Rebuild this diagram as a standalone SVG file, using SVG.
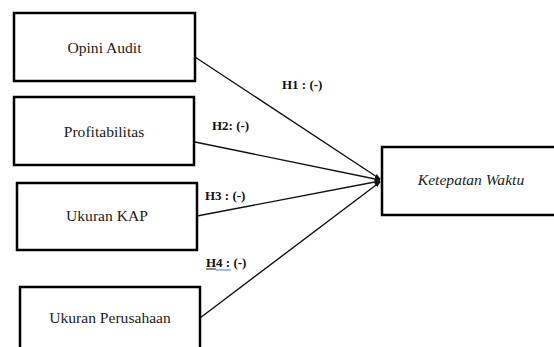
<svg xmlns="http://www.w3.org/2000/svg" width="554" height="347" viewBox="0 0 554 347">
<style>
.box{fill:#fff;stroke:#000;stroke-width:2.5}
.lbl{font-family:"Liberation Serif",serif;font-size:15.6px;fill:#222;text-anchor:middle}
.h{font-family:"Liberation Serif",serif;font-size:13px;font-weight:bold;fill:#111}
.con{stroke:#111;stroke-width:1.4;fill:none}
</style>
<defs>
<marker id="arr" viewBox="0 0 10 10" refX="9" refY="5" markerWidth="6" markerHeight="6" orient="auto" markerUnits="userSpaceOnUse">
<path d="M0,1 L10,5 L0,9 z" fill="#111"/>
</marker>
</defs>
<rect width="554" height="347" fill="#fff"/>
<g id="connectors">
<line class="con" x1="195" y1="57" x2="380" y2="179" marker-end="url(#arr)"/>
<line class="con" x1="195" y1="142" x2="380" y2="180" marker-end="url(#arr)"/>
<line class="con" x1="197" y1="216" x2="380" y2="181" marker-end="url(#arr)"/>
<line class="con" x1="200" y1="318" x2="380" y2="182" marker-end="url(#arr)"/>
</g>
<g id="node-opini">
<rect class="box" x="14" y="13" width="181" height="68" stroke-width="3"/>
<text class="lbl" x="104.5" y="53">Opini Audit</text>
</g>
<g id="node-profit">
<rect class="box" x="14" y="97" width="180" height="68"/>
<text class="lbl" x="104" y="137">Profitabilitas</text>
</g>
<g id="node-kap">
<rect class="box" x="17" y="183" width="180" height="67"/>
<text class="lbl" x="107" y="221">Ukuran KAP</text>
</g>
<g id="node-perusahaan">
<rect class="box" x="20" y="287" width="180" height="70"/>
<text class="lbl" x="110" y="323">Ukuran Perusahaan</text>
</g>
<g id="node-ketepatan">
<rect class="box" x="382" y="147" width="176" height="68"/>
<text class="lbl" x="471" y="185" font-style="italic">Ketepatan Waktu</text>
</g>
<g id="labels">
<text class="h" x="282" y="89">H1 : (-)</text>
<text class="h" x="212" y="130">H2: (-)</text>
<text class="h" x="205" y="200">H3 : (-)</text>
<text class="h" x="206" y="267">H4 : (-)</text>
<line x1="206" y1="269" x2="216" y2="269" stroke="#111" stroke-width="1"/>
<line x1="216" y1="270" x2="231" y2="270" stroke="#4a7fd6" stroke-width="1"/>
</g>
</svg>
